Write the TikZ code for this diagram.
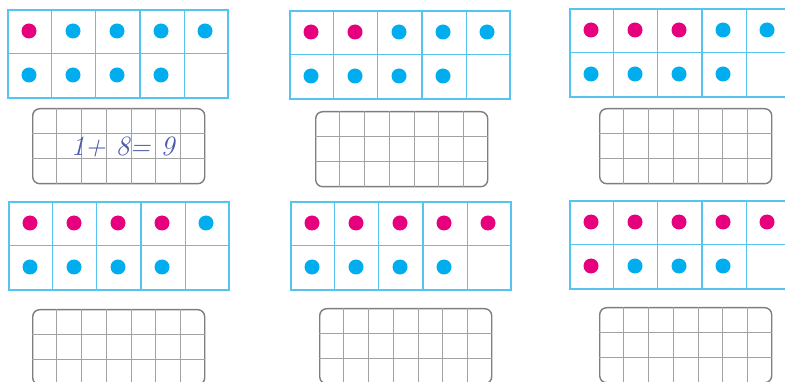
\documentclass[tikz,border=0pt]{standalone}
\usepackage{tikz}
\usetikzlibrary{calc}
\definecolor{framecyan}{HTML}{55C4EE}
\definecolor{dotblue}{HTML}{00AEEF}
\definecolor{dotpink}{HTML}{E6007E}
\definecolor{boxgrey}{HTML}{7E7E7E}
\definecolor{gridgrey}{HTML}{A2A2A2}
\definecolor{handink}{HTML}{4B5BAA}
\tikzset{
  tenframe/.style  = {draw=framecyan, line width=1.6pt, anchor=north west,
                      inner sep=0pt, minimum width=220pt, minimum height=88pt},
  frameline/.style = {draw=framecyan, line width=1.4pt},
  pinkdot/.style   = {circle, fill=dotpink, inner sep=0pt, minimum size=15pt},
  bluedot/.style   = {circle, fill=dotblue, inner sep=0pt, minimum size=15pt},
  gridbox/.style   = {draw=boxgrey, line width=1.4pt, rounded corners=7pt, anchor=north west,
                      inner sep=0pt, minimum width=172pt, minimum height=75pt},
  gridline/.style  = {draw=gridgrey, line width=1pt},
  handtext/.style  = {text=handink, font=\fontsize{28}{30}\selectfont\itshape, inner sep=0pt},
}
% ten-frame: name, x, y, number of pink dots
\newcommand{\drawtenframe}[4]{%
  \node[tenframe] (#1) at (#2,#3) {};
  \foreach \k in {1,...,4}
    \draw[frameline] ($(#1.north west)!\k/5!(#1.north east)$) -- ($(#1.south west)!\k/5!(#1.south east)$);
  \draw[frameline] (#1.west) -- (#1.east);
  \foreach \i [evaluate=\i as \col using {mod(\i-1,5)},
               evaluate=\i as \row using {int((\i-1)/5)}] in {1,...,9}{
    \ifnum\i>#4 \def\dotkind{bluedot}\else\def\dotkind{pinkdot}\fi
    \node[\dotkind] (#1-\i) at ($(#1.north west)+(22+44*\col,22+44*\row)$) {};
  }
}
% answer box: name, x, y
\newcommand{\drawgridbox}[3]{%
  \node[gridbox] (#1) at (#2,#3) {};
  \foreach \k in {1,...,6}
    \draw[gridline] ($(#1.north west)!\k/7!(#1.north east)$) -- ($(#1.south west)!\k/7!(#1.south east)$);
  \foreach \k in {1,2}
    \draw[gridline] ($(#1.north west)!\k/3!(#1.south west)$) -- ($(#1.north east)!\k/3!(#1.south east)$);
}

\begin{document}
\begin{tikzpicture}[x=1pt,y=-1pt]
  \useasboundingbox (0,0) rectangle (785,382);
  % top row
  \drawtenframe{fa}{7}{9}{1}
  \drawtenframe{fb}{289}{10}{2}
  \drawtenframe{fc}{569}{8}{3}
  \drawgridbox{ga}{32}{108}
  \drawgridbox{gb}{315}{111}
  \drawgridbox{gc}{599}{108}
  \node[handtext] (sum) at ($(ga.center)+(4,1)$) {1+ 8= 9};
  % bottom row
  \drawtenframe{fd}{8}{201}{4}
  \drawtenframe{fe}{290}{201}{5}
  \drawtenframe{ff}{569}{200}{6}
  \drawgridbox{gd}{32}{309}
  \drawgridbox{ge}{319}{308}
  \drawgridbox{gf}{599}{307}
\end{tikzpicture}
\end{document}
